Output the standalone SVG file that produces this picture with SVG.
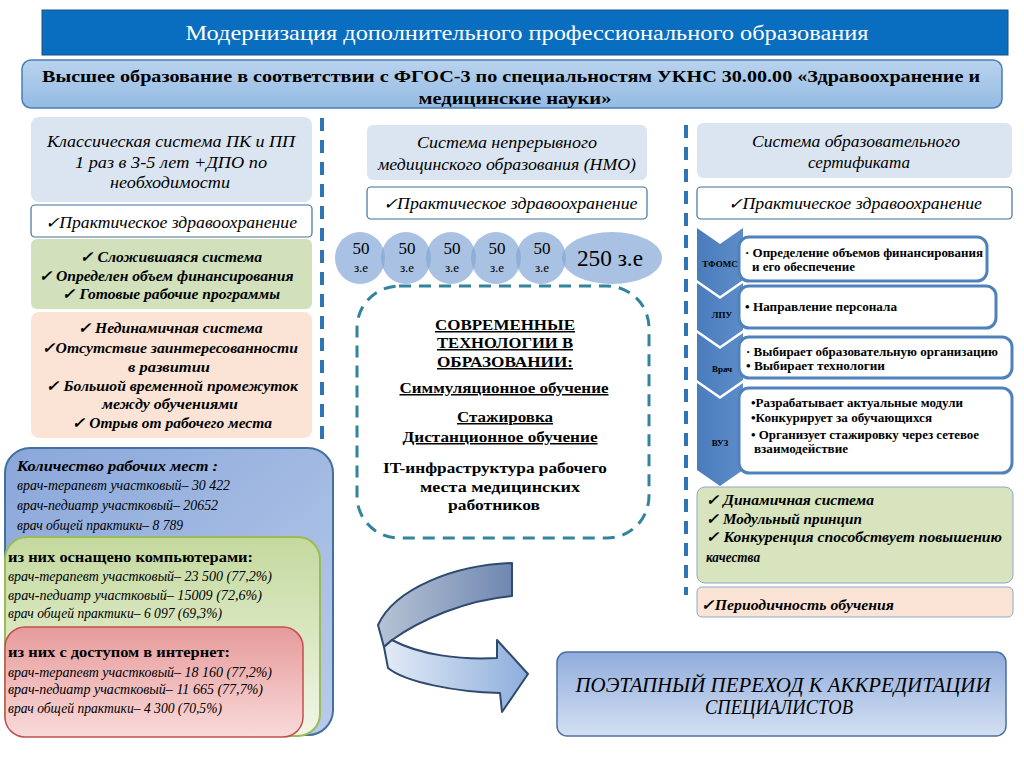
<svg xmlns="http://www.w3.org/2000/svg" width="1024" height="767" viewBox="0 0 1024 767">
<defs>
<linearGradient id="gSub" x1="0" y1="0" x2="0" y2="1"><stop offset="0" stop-color="#b9d3ee"/><stop offset="1" stop-color="#93bbe2"/></linearGradient>
<linearGradient id="gBlue" x1="0" y1="0" x2="1" y2="1"><stop offset="0" stop-color="#8aa7da"/><stop offset="1" stop-color="#b8cbea"/></linearGradient>
<linearGradient id="gGreen" x1="0" y1="0" x2="0" y2="1"><stop offset="0" stop-color="#c4d99e"/><stop offset="1" stop-color="#f1f6e6"/></linearGradient>
<linearGradient id="gRed" x1="0" y1="0" x2="0" y2="1"><stop offset="0" stop-color="#e79a9a"/><stop offset="1" stop-color="#f9dada"/></linearGradient>
<linearGradient id="gFinal" x1="0" y1="0" x2="0" y2="1"><stop offset="0" stop-color="#91acdc"/><stop offset="1" stop-color="#d3e0f2"/></linearGradient>
<linearGradient id="gArrUp" x1="1" y1="0" x2="0" y2="0"><stop offset="0" stop-color="#6f88b0"/><stop offset="1" stop-color="#b7c3d6"/></linearGradient>
<linearGradient id="gArrLo" x1="0" y1="0" x2="1" y2="0"><stop offset="0" stop-color="#e3ebf6"/><stop offset="1" stop-color="#8eaedc"/></linearGradient>
<linearGradient id="gChev" x1="0" y1="0" x2="1" y2="0"><stop offset="0" stop-color="#4a7cbc"/><stop offset="1" stop-color="#5d8cc8"/></linearGradient>
</defs>
<style>
text{font-family:"Liberation Serif","DejaVu Serif","Times New Roman",serif;fill:#000}
.hdr{fill:#dbe5f1}
.prac{fill:#fff;stroke:#41719c;stroke-width:1.2}
.green{fill:#d2e1bb}
.peach{fill:#fbe4d5}
.it{font-style:italic;font-size:16px}
.bi{font-style:italic;font-weight:bold;font-size:15px}
.ctr{text-anchor:middle}
.b{font-weight:bold}
.u{text-decoration:underline}
.sep{stroke:#2e75b6;stroke-width:4;stroke-dasharray:13 9;fill:none}
.circ{fill:#84a6d6;fill-opacity:0.7}
.chev{fill:url(#gChev)}
.wbox{fill:#fff;stroke:#4f81bd;stroke-width:3}
.chl{font-size:9px;font-weight:bold;text-anchor:middle}
.rt{font-size:12px;font-weight:bold}
.cond{font-style:italic;font-size:15px}
</style>

<g id="title">
<rect x="42" y="10" width="966" height="45" fill="#0a6ec0" stroke="#1f4e79" stroke-width="1"/>
<text x="527" y="40" class="ctr" font-size="21" style="fill:#fff" textLength="683" lengthAdjust="spacingAndGlyphs">Модернизация дополнительного профессионального образования</text>
</g>

<g id="subtitle">
<rect x="22" y="60" width="980" height="48" rx="9" fill="url(#gSub)" stroke="#4a7eb5" stroke-width="1.5"/>
<text x="511" y="82" class="ctr b" font-size="17" textLength="938" lengthAdjust="spacingAndGlyphs">Высшее образование в соответствии с ФГОС-3 по специальностям УКНС 30.00.00 «Здравоохранение и</text>
<text x="515" y="104" class="ctr b" font-size="17" textLength="193" lengthAdjust="spacingAndGlyphs">медицинские науки»</text>
</g>

<g id="connectors">
<line class="sep" x1="322" y1="118" x2="322" y2="440"/>
<line class="sep" x1="686" y1="125" x2="686" y2="595"/>
<g id="curved-arrow" stroke="#2f4a6e" stroke-width="2" stroke-linejoin="round">
<path d="M512,563 C455,565 395,588 378,625 L384,647 L392,640 C420,620 465,600 512,596 Z" fill="url(#gArrUp)"/>
<path d="M384,647 L392,640 C420,655 460,660 497,658 L497,640 L528,674 L502,712 L500,693 C455,692 405,682 388,668 Z" fill="url(#gArrLo)"/>
</g>
</g>

<g id="left-header">
<rect x="31" y="117" width="281" height="85" rx="8" class="hdr"/>
<text x="171" y="147" class="ctr it" textLength="248" lengthAdjust="spacingAndGlyphs">Классическая система ПК и ПП</text>
<text x="171" y="168" class="ctr it" textLength="192" lengthAdjust="spacingAndGlyphs">1 раз в 3-5 лет  +ДПО по</text>
<text x="170" y="188" class="ctr it" textLength="120" lengthAdjust="spacingAndGlyphs">необходимости</text>
</g>
<g id="left-prac">
<rect x="31" y="205" width="281" height="32" rx="4" class="prac"/>
<text x="171" y="228" class="ctr it" textLength="252" lengthAdjust="spacingAndGlyphs">✓Практическое здравоохранение</text>
</g>
<g id="left-green">
<rect x="31" y="239" width="281" height="70" rx="6" class="green"/>
<text x="171" y="262" class="ctr bi" textLength="182" lengthAdjust="spacingAndGlyphs">✓ Сложившаяся система</text>
<text x="166" y="281" class="ctr bi" textLength="255" lengthAdjust="spacingAndGlyphs">✓ Определен объем финансирования</text>
<text x="171" y="299" class="ctr bi" textLength="218" lengthAdjust="spacingAndGlyphs">✓ Готовые рабочие программы</text>
</g>
<g id="left-peach">
<rect x="31" y="312" width="281" height="126" rx="8" class="peach"/>
<text x="170" y="333" class="ctr bi" textLength="185" lengthAdjust="spacingAndGlyphs">✓ Нединамичная система</text>
<text x="170" y="353" class="ctr bi" textLength="256" lengthAdjust="spacingAndGlyphs">✓Отсутствие заинтересованности</text>
<text x="169" y="372" class="ctr bi" textLength="82" lengthAdjust="spacingAndGlyphs">в развитии</text>
<text x="172" y="391" class="ctr bi" textLength="252" lengthAdjust="spacingAndGlyphs">✓ Большой временной промежуток</text>
<text x="170" y="409" class="ctr bi" textLength="136" lengthAdjust="spacingAndGlyphs">между обучениями</text>
<text x="172" y="428" class="ctr bi" textLength="200" lengthAdjust="spacingAndGlyphs">✓ Отрыв от рабочего места</text>
</g>

<g id="stat-blue">
<rect x="5" y="448" width="328" height="287" rx="25" fill="url(#gBlue)" stroke="#41719c" stroke-width="2"/>
<text x="17" y="471" class="bi" textLength="201" lengthAdjust="spacingAndGlyphs">Количество рабочих мест :</text>
<text x="17" y="490" class="cond" textLength="213" lengthAdjust="spacingAndGlyphs">врач-терапевт участковый– 30 422</text>
<text x="17" y="510" class="cond" textLength="201" lengthAdjust="spacingAndGlyphs">врач-педиатр участковый– 20652</text>
<text x="17" y="530" class="cond" textLength="166" lengthAdjust="spacingAndGlyphs">врач общей практики– 8 789</text>
</g>
<g id="stat-green">
<rect x="5" y="537" width="315" height="199" rx="22" fill="url(#gGreen)" stroke="#9bbb59" stroke-width="2"/>
<text x="8" y="562" class="b" font-size="15" textLength="245" lengthAdjust="spacingAndGlyphs">из них оснащено компьютерами:</text>
<text x="8" y="581" class="cond" textLength="264" lengthAdjust="spacingAndGlyphs">врач-терапевт участковый– 23 500 (77,2%)</text>
<text x="8" y="600" class="cond" textLength="254" lengthAdjust="spacingAndGlyphs">врач-педиатр участковый– 15009 (72,6%)</text>
<text x="8" y="618" class="cond" textLength="214" lengthAdjust="spacingAndGlyphs">врач общей практики– 6 097 (69,3%)</text>
</g>
<g id="stat-red">
<rect x="5" y="627" width="298" height="110" rx="20" fill="url(#gRed)" stroke="#c0504d" stroke-width="1.5"/>
<text x="8" y="657" class="b" font-size="15" textLength="222" lengthAdjust="spacingAndGlyphs">из них с доступом в интернет:</text>
<text x="8" y="677" class="cond" textLength="264" lengthAdjust="spacingAndGlyphs">врач-терапевт участковый– 18 160 (77,2%)</text>
<text x="8" y="694" class="cond" textLength="255" lengthAdjust="spacingAndGlyphs">врач-педиатр участковый– 11 665 (77,7%)</text>
<text x="8" y="713" class="cond" textLength="214" lengthAdjust="spacingAndGlyphs">врач общей практики– 4 300 (70,5%)</text>
</g>

<g id="mid-header">
<rect x="367" y="125" width="280" height="55" rx="6" class="hdr"/>
<text x="507" y="148" class="ctr it" textLength="180" lengthAdjust="spacingAndGlyphs">Система непрерывного</text>
<text x="507" y="170" class="ctr it" textLength="258" lengthAdjust="spacingAndGlyphs">медицинского образования (НМО)</text>
</g>
<g id="mid-prac">
<rect x="367" y="187" width="280" height="32" rx="4" class="prac"/>
<text x="510" y="209" class="ctr it" textLength="255" lengthAdjust="spacingAndGlyphs">✓Практическое здравоохранение</text>
</g>
<g id="credits">
<ellipse class="circ" cx="360" cy="258" rx="25" ry="26"/>
<ellipse class="circ" cx="406" cy="258" rx="25" ry="26"/>
<ellipse class="circ" cx="451" cy="258" rx="25" ry="26"/>
<ellipse class="circ" cx="496" cy="258" rx="25" ry="26"/>
<ellipse class="circ" cx="541" cy="258" rx="25" ry="26"/>
<ellipse class="circ" cx="612" cy="258" rx="50" ry="26"/>
<text x="361" y="254" class="ctr" font-size="17">50</text>
<text x="407" y="254" class="ctr" font-size="17">50</text>
<text x="452" y="254" class="ctr" font-size="17">50</text>
<text x="497" y="254" class="ctr" font-size="17">50</text>
<text x="542" y="254" class="ctr" font-size="17">50</text>
<text x="361" y="272" class="ctr" font-size="13">з.е</text>
<text x="407" y="272" class="ctr" font-size="13">з.е</text>
<text x="452" y="272" class="ctr" font-size="13">з.е</text>
<text x="497" y="272" class="ctr" font-size="13">з.е</text>
<text x="542" y="272" class="ctr" font-size="13">з.е</text>
<text x="610" y="266" class="ctr" font-size="23" textLength="66" lengthAdjust="spacingAndGlyphs">250 з.е</text>
</g>
<g id="technologies">
<rect x="357" y="286" width="292" height="252" rx="42" fill="none" stroke="#31849b" stroke-width="3" stroke-dasharray="12 8"/>
<text x="505" y="330" class="ctr b u" font-size="15" textLength="140" lengthAdjust="spacingAndGlyphs">СОВРЕМЕННЫЕ</text>
<text x="505" y="348" class="ctr b u" font-size="15" textLength="136" lengthAdjust="spacingAndGlyphs">ТЕХНОЛОГИИ В</text>
<text x="505" y="367" class="ctr b u" font-size="15" textLength="136" lengthAdjust="spacingAndGlyphs">ОБРАЗОВАНИИ:</text>
<text x="504" y="393" class="ctr b u" font-size="15" textLength="209" lengthAdjust="spacingAndGlyphs">Симмуляционное обучение</text>
<text x="505" y="422" class="ctr b u" font-size="15" textLength="96" lengthAdjust="spacingAndGlyphs">Стажировка</text>
<text x="500" y="442" class="ctr b u" font-size="15" textLength="195" lengthAdjust="spacingAndGlyphs">Дистанционное обучение</text>
<text x="495" y="473" class="ctr b" font-size="15" textLength="224" lengthAdjust="spacingAndGlyphs">IT-инфраструктура рабочего</text>
<text x="500" y="492" class="ctr b" font-size="15" textLength="160" lengthAdjust="spacingAndGlyphs">места медицинских</text>
<text x="494" y="510" class="ctr b" font-size="15" textLength="92" lengthAdjust="spacingAndGlyphs">работников</text>
</g>

<g id="right-header">
<rect x="697" y="123" width="315" height="55" rx="6" class="hdr"/>
<text x="856" y="147" class="ctr it" textLength="208" lengthAdjust="spacingAndGlyphs">Система образовательного</text>
<text x="859" y="168" class="ctr it" textLength="102" lengthAdjust="spacingAndGlyphs">сертификата</text>
</g>
<g id="right-prac">
<rect x="697" y="187" width="315" height="32" rx="4" class="prac"/>
<text x="855" y="209" class="ctr it" textLength="254" lengthAdjust="spacingAndGlyphs">✓Практическое здравоохранение</text>
</g>
<g id="tfoms">
<path class="chev" d="M697,228 L720,244 L743,228 L743,280 L720,296 L697,280 Z"/>
<rect x="739" y="237" width="248" height="44" rx="10" class="wbox"/>
<text x="720" y="267" class="chl">ТФОМС</text>
<text x="745" y="257" class="rt" textLength="238" lengthAdjust="spacingAndGlyphs">· Определение объемов финансирования</text>
<text x="752" y="271" class="rt" textLength="103" lengthAdjust="spacingAndGlyphs">и его обеспечение</text>
</g>
<g id="lpu">
<path class="chev" d="M697,283 L720,299 L743,283 L743,330 L720,346 L697,330 Z"/>
<rect x="739" y="286" width="257" height="42" rx="10" class="wbox"/>
<text x="722" y="318" class="chl">ЛПУ</text>
<text x="745" y="311" class="rt" textLength="152" lengthAdjust="spacingAndGlyphs">•  Направление персонала</text>
</g>
<g id="vrach">
<path class="chev" d="M697,333 L720,349 L743,333 L743,380 L720,396 L697,380 Z"/>
<rect x="739" y="337" width="273" height="41" rx="10" class="wbox"/>
<text x="722" y="372" class="chl">Врач</text>
<text x="746" y="356" class="rt" textLength="252" lengthAdjust="spacingAndGlyphs">·  Выбирает образовательную организацию</text>
<text x="746" y="370" class="rt" textLength="139" lengthAdjust="spacingAndGlyphs">•  Выбирает технологии</text>
</g>
<g id="vuz">
<path class="chev" d="M697,383 L720,399 L743,383 L743,470 L720,486 L697,470 Z"/>
<rect x="739" y="388" width="273" height="85" rx="10" class="wbox"/>
<text x="720" y="446" class="chl">ВУЗ</text>
<text x="751" y="407" class="rt" textLength="212" lengthAdjust="spacingAndGlyphs">•Разрабатывает актуальные модули</text>
<text x="751" y="422" class="rt" textLength="181" lengthAdjust="spacingAndGlyphs">•Конкурирует за обучающихся</text>
<text x="751" y="439" class="rt" textLength="228" lengthAdjust="spacingAndGlyphs">•  Организует стажировку через сетевое</text>
<text x="754" y="453" class="rt" textLength="94" lengthAdjust="spacingAndGlyphs">взаимодействие</text>
</g>
<g id="right-green">
<rect x="697" y="487" width="316" height="96" rx="8" fill="#d7e4bd" stroke="#8ea9c8" stroke-width="1"/>
<text x="706" y="505" class="bi" textLength="168" lengthAdjust="spacingAndGlyphs">✓ Динамичная система</text>
<text x="706" y="524" class="bi" textLength="156" lengthAdjust="spacingAndGlyphs">✓ Модульный принцип</text>
<text x="706" y="542" class="bi" textLength="296" lengthAdjust="spacingAndGlyphs">✓ Конкуренция способствует повышению</text>
<text x="706" y="562" class="bi" textLength="54" lengthAdjust="spacingAndGlyphs">качества</text>
</g>
<g id="right-peach">
<rect x="697" y="587" width="316" height="30" rx="5" fill="#fbe4d5" stroke="#8ea9c8" stroke-width="1"/>
<text x="701" y="610" class="bi" textLength="193" lengthAdjust="spacingAndGlyphs">✓Периодичность обучения</text>
</g>

<g id="accreditation">
<rect x="557" y="652" width="449" height="84" rx="10" fill="url(#gFinal)" stroke="#4a6fa5" stroke-width="1.5"/>
<text x="783" y="692" class="ctr" font-style="italic" font-size="20" textLength="415" lengthAdjust="spacingAndGlyphs">ПОЭТАПНЫЙ ПЕРЕХОД К АККРЕДИТАЦИИ</text>
<text x="779" y="714" class="ctr" font-style="italic" font-size="20" textLength="148" lengthAdjust="spacingAndGlyphs">СПЕЦИАЛИСТОВ</text>
</g>
</svg>
